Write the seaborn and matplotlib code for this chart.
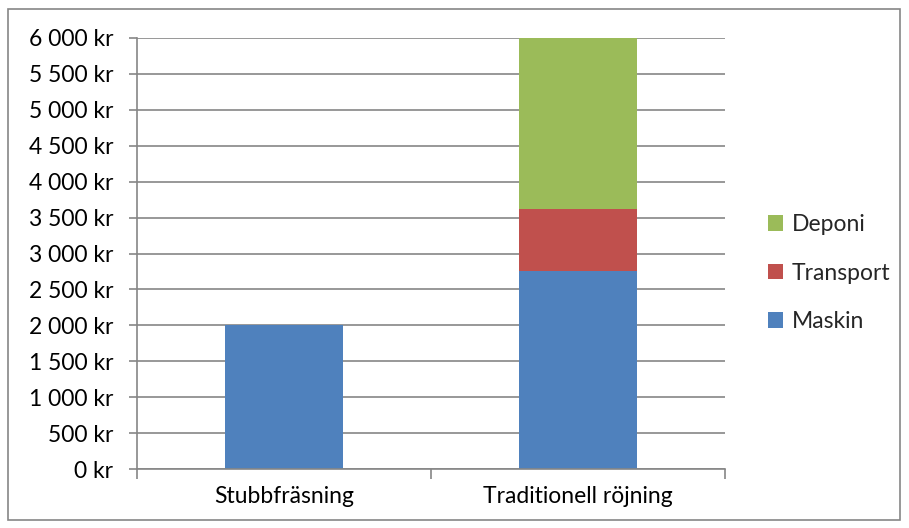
import matplotlib
matplotlib.use("Agg")
import matplotlib.pyplot as plt
from matplotlib.patches import Patch, Rectangle
from matplotlib.ticker import FuncFormatter, MultipleLocator
import seaborn as sns
import pandas as pd

categories = ["Stubbfräsning", "Traditionell röjning"]
maskin = [2000, 2750]
transport = [0, 875]
deponi = [0, 2375]

colors = {"Maskin": "#4F81BD", "Transport": "#C0504D", "Deponi": "#9BBB59"}

sns.set_theme(style="white")
plt.rcParams["font.family"] = ["Lato", "DejaVu Sans"]
FS = 16.5

df = pd.DataFrame({"kategori": categories, "Maskin": maskin,
                   "Transport": transport, "Deponi": deponi})
df["lvl_maskin"] = df["Maskin"]
df["lvl_transport"] = df["Maskin"] + df["Transport"]
df["lvl_deponi"] = df["lvl_transport"] + df["Deponi"]

fig = plt.figure(figsize=(9.09, 5.28), dpi=100)
ax = fig.add_axes([137 / 909, 1 - 469 / 528, (725 - 137) / 909, (469 - 38) / 528])

# stacked columns: draw the cumulative levels from the top down
for col, name in [("lvl_deponi", "Deponi"), ("lvl_transport", "Transport"), ("lvl_maskin", "Maskin")]:
    sns.barplot(data=df, x="kategori", y=col, color=colors[name], width=0.4,
                saturation=1, linewidth=0, ax=ax, zorder=2)

ax.set_xlim(-0.5, 1.5)
ax.set_ylim(0, 6000)
ax.yaxis.set_major_locator(MultipleLocator(500))
ax.yaxis.set_major_formatter(FuncFormatter(lambda v, p: f"{int(v):,}".replace(",", " ") + " kr"))
ax.grid(axis="y", color="#868686", linewidth=1.2, zorder=0)
ax.set_axisbelow(True)
ax.set_xlabel("")
ax.set_ylabel("")

for s in ["top", "right"]:
    ax.spines[s].set_visible(False)
for s in ["left", "bottom"]:
    ax.spines[s].set_color("#868686")
    ax.spines[s].set_linewidth(1.2)

ax.tick_params(axis="y", which="major", left=True, length=6, width=1.2, color="#868686",
               labelsize=FS, labelcolor="black", pad=11)
ax.set_xticks([0, 1])
ax.set_xticklabels(categories)
ax.tick_params(axis="x", which="major", bottom=False, labelsize=FS, labelcolor="black", pad=6)
ax.set_xticks([-0.5, 0.5, 1.5], minor=True)
ax.tick_params(axis="x", which="minor", bottom=True, length=7, width=1.2, color="#868686")

handles = [Patch(facecolor=colors[n], edgecolor="none") for n in ["Deponi", "Transport", "Maskin"]]
fig.legend(handles, ["Deponi", "Transport", "Maskin"], loc="center left",
           bbox_to_anchor=(768 / 909, 1 - 273 / 528), frameon=False, fontsize=FS,
           handlelength=0.65, handleheight=0.65, handletextpad=0.4, labelspacing=1.2,
           borderaxespad=0, borderpad=0)

fig.patches.append(Rectangle((8 / 909, 8 / 528), 892 / 909, 511 / 528, transform=fig.transFigure,
                             fill=False, edgecolor="#868686", linewidth=1.2))

fig.savefig("out.png", dpi=100)
